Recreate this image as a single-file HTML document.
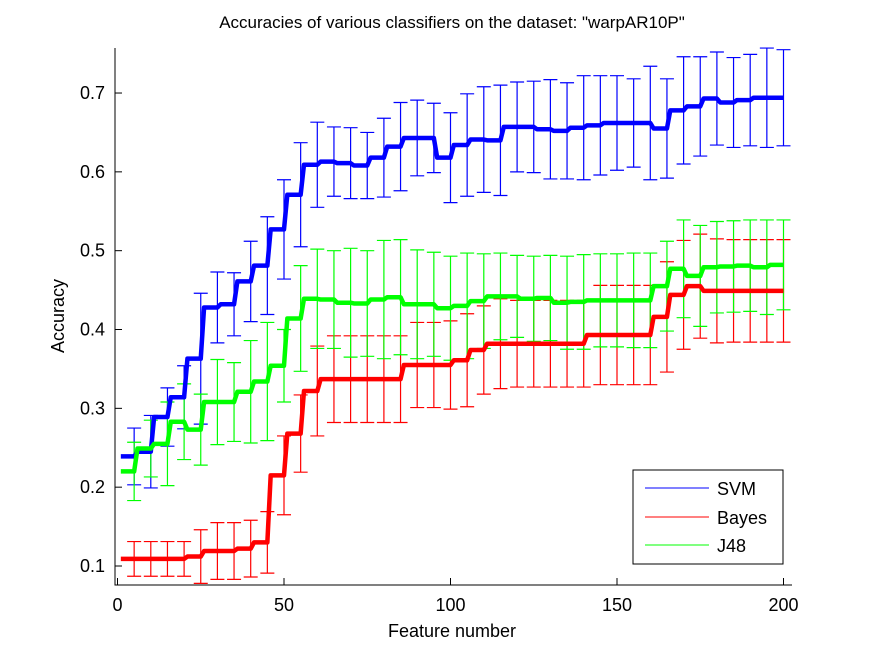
<!DOCTYPE html>
<html><head><meta charset="utf-8"><style>
body{margin:0;background:#fff;}
svg{display:block;font-family:"Liberation Sans",Arial,sans-serif;}
</style></head><body>
<svg id="chart" width="875" height="656" viewBox="0 0 875 656" xmlns="http://www.w3.org/2000/svg">
<rect width="875" height="656" fill="#fff"/>
<text x="452" y="28" text-anchor="middle" font-size="17">Accuracies of various classifiers on the dataset: "warpAR10P"</text>
<g id="errbars"></g>
<g id="lines"></g>
<g id="axes"></g>
<text x="452" y="637" text-anchor="middle" font-size="18">Feature number</text>
<text transform="translate(64,316) rotate(-90)" text-anchor="middle" font-size="18">Accuracy</text>
<g>
<rect x="633" y="470" width="150" height="94" fill="#fff" stroke="#000" stroke-width="1"/>
<line x1="645" y1="488" x2="709" y2="488" stroke="#0000ff"/>
<text x="717" y="495" font-size="18">SVM</text>
<line x1="645" y1="517" x2="709" y2="517" stroke="#ff0000"/>
<text x="717" y="524" font-size="18">Bayes</text>
<line x1="645" y1="545" x2="709" y2="545" stroke="#00ff00"/>
<text x="717" y="552" font-size="18">J48</text>
</g>
</svg>
<script>
const features = [5,10,15,20,25,30,35,40,45,50,55,60,65,70,75,80,85,90,95,100,105,110,115,120,125,130,135,140,145,150,155,160,165,170,175,180,185,190,195,200];
const svmMean = [0.239,0.245,0.289,0.314,0.363,0.428,0.432,0.461,0.481,0.527,0.571,0.609,0.613,0.611,0.608,0.618,0.632,0.643,0.643,0.618,0.634,0.641,0.640,0.657,0.657,0.654,0.652,0.656,0.659,0.662,0.662,0.662,0.655,0.678,0.683,0.693,0.688,0.691,0.694,0.694];
const svmErr = [0.036,0.046,0.037,0.040,0.083,0.045,0.040,0.051,0.062,0.063,0.066,0.054,0.044,0.045,0.042,0.050,0.056,0.048,0.044,0.057,0.065,0.067,0.070,0.057,0.058,0.063,0.061,0.066,0.063,0.060,0.056,0.072,0.063,0.068,0.063,0.059,0.057,0.058,0.063,0.061];
const bayesMean = [0.109,0.109,0.109,0.109,0.112,0.119,0.119,0.122,0.130,0.215,0.268,0.322,0.337,0.337,0.337,0.337,0.337,0.355,0.355,0.355,0.361,0.374,0.382,0.382,0.382,0.382,0.382,0.382,0.393,0.393,0.393,0.393,0.416,0.444,0.455,0.449,0.449,0.449,0.449,0.449];
const bayesErr = [0.022,0.022,0.022,0.022,0.034,0.036,0.036,0.036,0.039,0.050,0.049,0.057,0.055,0.055,0.055,0.055,0.055,0.054,0.054,0.056,0.059,0.056,0.057,0.055,0.055,0.055,0.055,0.055,0.063,0.063,0.063,0.063,0.070,0.069,0.066,0.066,0.065,0.065,0.065,0.065];
const j48Mean = [0.220,0.249,0.255,0.283,0.273,0.308,0.308,0.321,0.334,0.354,0.414,0.439,0.438,0.434,0.433,0.438,0.441,0.432,0.432,0.427,0.430,0.436,0.442,0.442,0.439,0.440,0.434,0.435,0.437,0.437,0.437,0.437,0.455,0.477,0.468,0.479,0.480,0.481,0.479,0.482];
const j48Err = [0.037,0.036,0.053,0.048,0.045,0.054,0.050,0.065,0.075,0.046,0.067,0.063,0.062,0.069,0.067,0.075,0.073,0.069,0.066,0.066,0.067,0.060,0.055,0.052,0.054,0.054,0.059,0.060,0.059,0.059,0.060,0.060,0.057,0.062,0.064,0.058,0.058,0.058,0.060,0.057];
const xTicks = [0,50,100,150,200];
const yTicks = [0.1,0.2,0.3,0.4,0.5,0.6,0.7];
const yTickLabels = ["0.1","0.2","0.3","0.4","0.5","0.6","0.7"];

const NS = "http://www.w3.org/2000/svg";
const X0 = 117.5, XS = 3.33;
const xPix = f => X0 + f * XS;
const yPix = v => 566 - (v - 0.1) * 788.3;
function mk(tag, attrs, parent){const e=document.createElementNS(NS,tag);for(const k in attrs)e.setAttribute(k,attrs[k]);parent.appendChild(e);return e;}

const series = [
  {name:"svm", mean:svmMean, err:svmErr, color:"#0000ff"},
  {name:"bayes", mean:bayesMean, err:bayesErr, color:"#ff0000"},
  {name:"j48", mean:j48Mean, err:j48Err, color:"#00ff00"}
];
const eb = document.getElementById("errbars");
const lg = document.getElementById("lines");
series.forEach(s => {
  features.forEach((f,i) => {
    const x = xPix(f), yt = yPix(s.mean[i]+s.err[i]), yb = yPix(s.mean[i]-s.err[i]);
    const d = `M${x},${yt}V${yb}M${x-7},${yt}H${x+7}M${x-7},${yb}H${x+7}`;
    const p = mk("path",{d:d, stroke:s.color, "stroke-width":1.2, fill:"none"}, eb);
    
    
  });
});
series.forEach(s => {
  let d = `M${xPix(1)},${yPix(s.mean[0])}`;
  features.forEach((f,i) => {
    d += `L${xPix(f)},${yPix(s.mean[i])}`;
    if (i+1 < features.length) d += `L${xPix(f+1)},${yPix(s.mean[i+1])}`;
  });
  const p = mk("path",{d:d, stroke:s.color, "stroke-width":4.5, fill:"none", "stroke-linejoin":"round"}, lg);
  
  
});
const ax = document.getElementById("axes");
const a1 = mk("path",{d:"M115,48V585H792", stroke:"#000", "stroke-width":1, fill:"none"}, ax);


xTicks.forEach(t => {
  const x = xPix(t);
  const l = mk("line",{x1:x,y1:585,x2:x,y2:578,stroke:"#000"}, ax);
  
  
  const tx = mk("text",{x:x,y:611,"text-anchor":"middle","font-size":18}, ax);
  tx.textContent = String(t);
  
  
});
yTicks.forEach((t,i) => {
  const y = yPix(t);
  const l = mk("line",{x1:115,y1:y,x2:122,y2:y,stroke:"#000"}, ax);
  
  
  const tx = mk("text",{x:105,y:y+6,"text-anchor":"end","font-size":18}, ax);
  tx.textContent = yTickLabels[i];
  
  
});
</script>
</body></html>
